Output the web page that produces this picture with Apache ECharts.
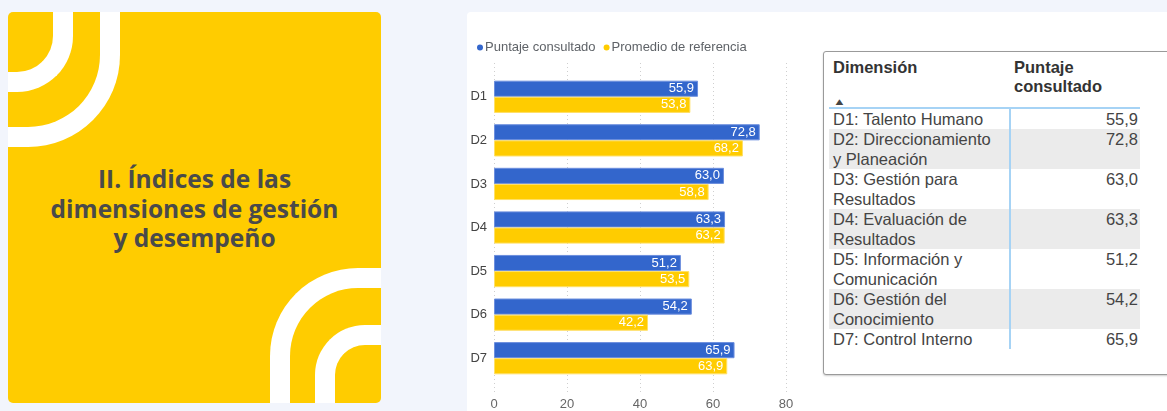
<!DOCTYPE html>
<html lang="es">
<head>
<meta charset="utf-8">
<title>Índices de las dimensiones de gestión y desempeño</title>
<script src="https://cdn.jsdelivr.net/npm/echarts@6/dist/echarts.min.js"></script>
<style>
html, body {
  margin: 0;
  width: 1167px;
  height: 411px;
  overflow: hidden;
  background: #f2f5fc;
  font-family: "Liberation Sans", Arial, sans-serif;
}
#cover {
  position: absolute;
  left: 8px; top: 12px;
  width: 373px; height: 391px;
  background: #ffcc00;
  border-radius: 5px;
  overflow: hidden;
}
.arc {
  position: absolute;
  border: 0 solid #fff;
  box-sizing: border-box;
}
#cover h1 {
  position: absolute;
  left: 0; right: 0; top: 152px;
  margin: 0;
  text-align: center;
  font-family: "Open Sans", sans-serif;
  font-weight: 700;
  font-size: 24.5px;
  line-height: 29.5px;
  color: #4a4a4a;
}
#panel {
  position: absolute;
  left: 467px; top: 12px;
  width: 720px; height: 420px;
  background: #fff;
  border-radius: 4px;
}
#chart {
  position: absolute;
  left: 467px; top: 12px;
  width: 350px; height: 399px;
}
#tbox {
  position: absolute;
  left: 823px; top: 51px;
  width: 380px; height: 322px;
  border: 1px solid #9a9a9a;
  border-radius: 3px;
  box-shadow: 0 1px 2px rgba(0,0,0,0.2);
  background: #fff;
}
#tbl {
  position: absolute;
  left: 5px; top: 4px;
  border-collapse: collapse;
  font-size: 16.5px;
  color: #444;
}
#tbl th {
  text-align: left;
  vertical-align: top;
  font-weight: 700;
  color: #333;
  line-height: 19px;
  padding: 2px 4px 0 4px;
  height: 49px;
  border-bottom: 2px solid #a6d3f5;
  position: relative;
}
#tbl th .sort {
  position: absolute;
  left: 4px; top: 36px;
  font-size: 10px;
  transform: scaleX(1.3);
  transform-origin: left;
  color: #444;
}
#tbl td {
  vertical-align: top;
  line-height: 20px;
  padding: 0 4px;
}
#tbl td.v {
  text-align: right;
  padding-right: 2px;
}
#tbl td.d { width: 160px; padding-right: 16px; border-right: 2px solid #a6d3f5; }
#tbl td.v, #tbl th.v { width: 122px; }
#tbl tr.odd td { background: #ebebeb; }
</style>
</head>
<body>
<div id="cover">
  <div class="arc" style="left:-120px;top:-120px;width:185px;height:200px;border-right-width:20px;border-bottom-width:20px;border-bottom-right-radius:56px;"></div>
  <div class="arc" style="left:-120px;top:-120px;width:232px;height:255px;border-right-width:20px;border-bottom-width:20px;border-bottom-right-radius:92px;"></div>
  <div class="arc" style="left:262px;top:256px;width:200px;height:200px;border-left-width:20px;border-top-width:20px;border-top-left-radius:88px;"></div>
  <div class="arc" style="left:307px;top:313px;width:200px;height:200px;border-left-width:20px;border-top-width:20px;border-top-left-radius:50px;"></div>
  <h1>II. Índices de las<br>dimensiones de gestión<br>y desempeño</h1>
</div>
<div id="panel"></div>
<div id="chart"></div>
<div id="tbox"><table id="tbl"></table></div>
<script>
var categories = ['D1', 'D2', 'D3', 'D4', 'D5', 'D6', 'D7'];
var dimensionNames = [
  'D1: Talento Humano',
  'D2: Direccionamiento y Planeación',
  'D3: Gestión para Resultados',
  'D4: Evaluación de Resultados',
  'D5: Información y Comunicación',
  'D6: Gestión del Conocimiento',
  'D7: Control Interno'
];
var puntaje = [55.9, 72.8, 63.0, 63.3, 51.2, 54.2, 65.9];
var promedio = [53.8, 68.2, 58.8, 63.2, 53.5, 42.2, 63.9];
var xTicks = [0, 20, 40, 60, 80];

function fmt(v) {
  return v.toFixed(1).replace('.', ',');
}

// table on the right
var html = '<tr><th>Dimensión<span class="sort">&#9650;</span></th><th class="v">Puntaje<br>consultado</th></tr>';
dimensionNames.forEach(function (name, i) {
  html += '<tr class="' + (i % 2 ? 'odd' : '') + '"><td class="d">' + name +
    '</td><td class="v">' + fmt(puntaje[i]) + '</td></tr>';
});
document.getElementById('tbl').innerHTML = html;

var chart = echarts.init(document.getElementById('chart'));
var label = {
  show: true,
  position: 'insideRight',
  distance: 4,
  color: '#fff',
  fontSize: 13,
  fontFamily: 'Liberation Sans',
  formatter: function (p) { return fmt(p.value); }
};
var xMin = xTicks[0], xMax = xTicks[xTicks.length - 1];
chart.setOption({
  animation: false,
  textStyle: { fontFamily: 'Liberation Sans' },
  legend: {
    left: 5,
    top: 24,
    icon: 'circle',
    itemWidth: 6,
    itemHeight: 6,
    itemGap: 8,
    itemStyle: { borderWidth: 0 },
    textStyle: { color: '#5f6368', fontSize: 13, padding: [0, 0, 0, -3] },
    data: ['Puntaje consultado', 'Promedio de referencia']
  },
  grid: [
    { left: 27, right: 31, top: 63, bottom: 30 },
    // taller grid only for the dotted gridlines
    { left: 27, right: 31, top: 51, bottom: 16 }
  ],
  xAxis: [
    {
      type: 'value',
      min: xMin,
      max: xMax,
      interval: 20,
      axisLine: { show: false },
      axisTick: { show: false },
      axisLabel: { color: '#666', fontSize: 13, margin: 18 },
      splitLine: { show: false }
    },
    {
      type: 'value',
      gridIndex: 1,
      min: xMin,
      max: xMax,
      interval: 20,
      axisLine: { show: false },
      axisTick: { show: false },
      axisLabel: { show: false },
      splitLine: { lineStyle: { type: [1, 3], color: '#cfcfcf' } }
    }
  ],
  yAxis: [
    {
      type: 'category',
      inverse: true,
      data: categories,
      axisLine: { show: false },
      axisTick: { show: false },
      axisLabel: { color: '#444', fontSize: 13, margin: 7 }
    },
    { type: 'value', gridIndex: 1, show: false }
  ],
  series: [
    {
      name: 'Puntaje consultado',
      type: 'bar',
      data: puntaje,
      barGap: '0%',
      barCategoryGap: '26%',
      z: 3,
      itemStyle: { color: '#3366cc', borderColor: '#6d8fde', borderWidth: 1 },
      label: label
    },
    {
      name: 'Promedio de referencia',
      type: 'bar',
      data: promedio,
      z: 3,
      itemStyle: { color: '#ffcc00', borderColor: '#ffe066', borderWidth: 1 },
      label: label
    }
  ]
});
</script>
</body>
</html>
